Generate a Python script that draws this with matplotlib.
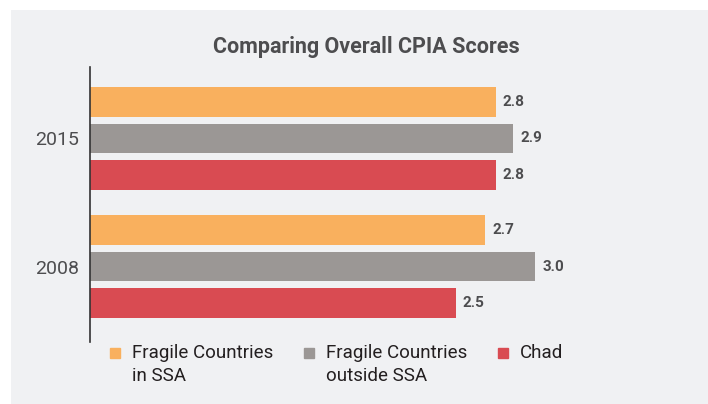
import numpy as np
import matplotlib.pyplot as plt
from matplotlib import font_manager
from matplotlib.lines import Line2D
from matplotlib.legend_handler import HandlerLine2D

years = ["2008", "2015"]
series = ["Fragile Countries\nin SSA", "Fragile Countries\noutside SSA", "Chad\n "]
in_ssa = [2.69, 2.76]
outside_ssa = [3.03, 2.88]
chad = [2.49, 2.76]
colors = ["#f9b05e", "#9b9795", "#d94b52"]

names = {f.name for f in font_manager.fontManager.ttflist}
narrow = "Liberation Sans Narrow" if "Liberation Sans Narrow" in names else "Roboto"
plt.rcParams['font.family'] = [narrow, 'DejaVu Sans']


class TopHandler(HandlerLine2D):
    # put the square beside the first line of a two-line label
    def create_artists(self, legend, orig_handle, xdescent, ydescent, width, height, fontsize, trans):
        arts = super().create_artists(legend, orig_handle, xdescent, ydescent, width, height,
                                      fontsize, trans)
        if "\n" in orig_handle.get_label():
            for a in arts:
                a.set_ydata(np.asarray(a.get_ydata()) + 0.62 * fontsize)
        return arts


fig = plt.figure(figsize=(7.08, 4.04), dpi=100)
fig.patch.set_facecolor("white")
# gray panel behind everything
fig.patches.append(plt.Rectangle((11 / 708, 0), 1, 1 - 10 / 404, transform=fig.transFigure,
                                 facecolor="#f0f1f3", edgecolor="none", zorder=-1))

ax = fig.add_axes([90 / 708, 1 - 341.7 / 404, 600 / 708, 275 / 404])
ax.set_facecolor("none")

pos = np.arange(len(years))
d = 0.285
h = 0.232
for vals, off, c in zip([in_ssa, outside_ssa, chad], [d, 0, -d], colors):
    bars = ax.barh(pos + off, vals, height=h, color=c)
    ax.bar_label(bars, labels=[f"{v:.1f}" for v in vals], padding=5,
                 fontsize=11, color="#4d4d4f", fontweight="semibold")

ax.set_xlim(0, 600 / 147)
ax.set_ylim(-0.586, 1.56)
ax.set_yticks(pos, years, fontsize=14, color="#4d4d4f")
ax.tick_params(axis="y", length=0, pad=8)
ax.set_xticks([])
for s in ["top", "right", "bottom"]:
    ax.spines[s].set_visible(False)
ax.spines["left"].set_color("#333333")
ax.spines["left"].set_linewidth(1.2)

fig.text(366 / 708, 1 - 47 / 404, "Comparing Overall CPIA Scores", ha="center", va="center",
         fontsize=15.5, fontweight="bold", color="#4d4d4f")

handles = [Line2D([], [], marker="s", ls="none", markersize=7.2, color=c, label=l)
           for c, l in zip(colors, series)]
leg = fig.legend(handles=handles, loc="upper left", bbox_to_anchor=(91 / 708, 1 - 327 / 404),
                 ncol=3, frameon=False, fontsize=13.5, handlelength=0.8, handletextpad=0.5,
                 columnspacing=1.5, labelcolor="#231f20", labelspacing=0.2,
                 handler_map={Line2D: TopHandler()})
for t in leg.get_texts():
    t.set_linespacing(1.35)

fig.savefig("out.png", dpi=100)
